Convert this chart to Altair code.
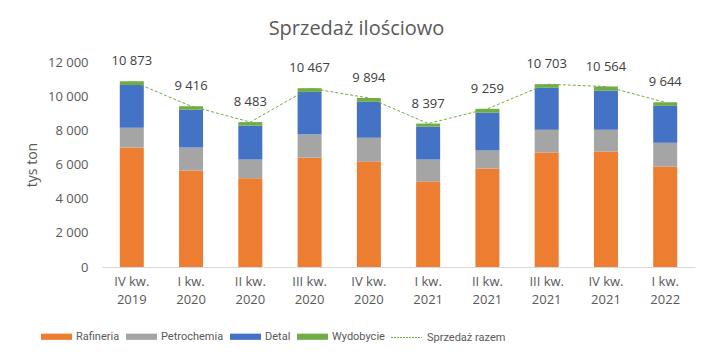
import altair as alt
import pandas as pd

categories = ["IV kw.|2019", "I kw.|2020", "II kw.|2020", "III kw.|2020", "IV kw.|2020",
              "I kw.|2021", "II kw.|2021", "III kw.|2021", "IV kw.|2021", "I kw.|2022"]
rafineria = [7000, 5650, 5200, 6400, 6170, 5000, 5770, 6700, 6760, 5880]
petrochemia = [1150, 1340, 1090, 1350, 1400, 1290, 1050, 1340, 1280, 1400]
detal = [2500, 2220, 1980, 2500, 2100, 1920, 2210, 2450, 2270, 2150]
wydobycie = [223, 206, 213, 217, 224, 187, 229, 213, 254, 214]
totals = [10873, 9416, 8483, 10467, 9894, 8397, 9259, 10703, 10564, 9644]

series_names = ["Rafineria", "Petrochemia", "Detal", "Wydobycie"]
series_colors = ["#ED7D31", "#A5A5A5", "#4472C4", "#70AD47"]
line_name = "Sprzedaż razem"
line_color = "#70AD47"
y_ticks = [0, 2000, 4000, 6000, 8000, 10000, 12000]

rows = []
for i, cat in enumerate(categories):
    for j, (name, vals) in enumerate(zip(series_names, [rafineria, petrochemia, detal, wydobycie])):
        rows.append({"cat": cat, "series": name, "ord": j, "value": vals[i]})
bars_df = pd.DataFrame(rows)
tot_df = pd.DataFrame({"cat": categories, "total": totals, "line": [line_name] * len(categories)})

FONT = "Open Sans"
LEG_FONT = "Roboto"
TXT = "#595959"

x_axis = alt.Axis(title=None, labelExpr="split(datum.label, '|')", labelAngle=0,
                  domainColor="#D9D9D9", ticks=False, labelPadding=8,
                  labelFontSize=13, labelColor=TXT, labelLineHeight=18)
x_scale = alt.Scale(paddingInner=0.595, paddingOuter=0.3)
y_axis = alt.Axis(title="tys ton", values=y_ticks, labelOverlap=False, tickCount=7,
                  labelExpr="replace(format(datum.value, ',.0f'), ',', ' ')",
                  grid=False, domain=False, ticks=False, labelPadding=14,
                  labelFontSize=13, labelColor=TXT, titleFontSize=14,
                  titleColor=TXT, titleFontWeight="normal", titlePadding=8)
y_scale = alt.Scale(domain=[0, 12000], nice=False)

bars = alt.Chart(bars_df).mark_bar().encode(
    x=alt.X("cat:N", sort=categories, scale=x_scale, axis=x_axis),
    y=alt.Y("value:Q", stack="zero", scale=y_scale, axis=y_axis),
    color=alt.Color("series:N", scale=alt.Scale(domain=series_names, range=series_colors),
                    legend=alt.Legend(title=None, orient="none", legendX=-61, legendY=259,
                                      direction="horizontal",
                                      symbolType="M-1,-0.2H1V0.2H-1Z", symbolSize=961,
                                      symbolStrokeWidth=0, labelFontSize=11, labelColor=TXT,
                                      labelFont=LEG_FONT,
                                      labelOffset=4, columnPadding=6, padding=0)),
    order=alt.Order("ord:Q"),
)

line = alt.Chart(tot_df).mark_line(strokeDash=[3, 2], strokeWidth=1).encode(
    x=alt.X("cat:N", sort=categories, scale=x_scale, axis=x_axis),
    y=alt.Y("total:Q", scale=y_scale, axis=y_axis),
    stroke=alt.Stroke("line:N", scale=alt.Scale(domain=[line_name], range=[line_color]),
                      legend=alt.Legend(title=None, orient="none", legendX=288, legendY=259,
                                        symbolType="stroke", symbolSize=961, symbolDash=[2, 1],
                                        symbolStrokeWidth=1.2, symbolStrokeColor=line_color,
                                        labelFontSize=11, labelColor=TXT, labelFont=LEG_FONT,
                                        labelOffset=4, padding=0)),
)

labels = alt.Chart(tot_df).transform_calculate(
    lab="replace(format(datum.total, ',.0f'), ',', ' ')"
).mark_text(dy=-20, fontSize=13, color="#404040", font=FONT).encode(
    x=alt.X("cat:N", sort=categories, scale=x_scale, axis=x_axis),
    y=alt.Y("total:Q", scale=y_scale, axis=y_axis),
    text="lab:N",
)

chart = alt.layer(bars, line, labels).properties(
    width=593, height=205,
    title=alt.Title("Sprzedaż ilościowo", fontSize=20, fontWeight="normal", color=TXT,
                    font=FONT, dx=-42, offset=16),
    autosize=alt.AutoSizeParams(type="none"),
    padding={"left": 94, "top": 54, "right": 2, "bottom": 80},
).configure(font=FONT).configure_view(stroke=None)

chart.save("out.html", embed_options={"renderer": "svg", "actions": False})
